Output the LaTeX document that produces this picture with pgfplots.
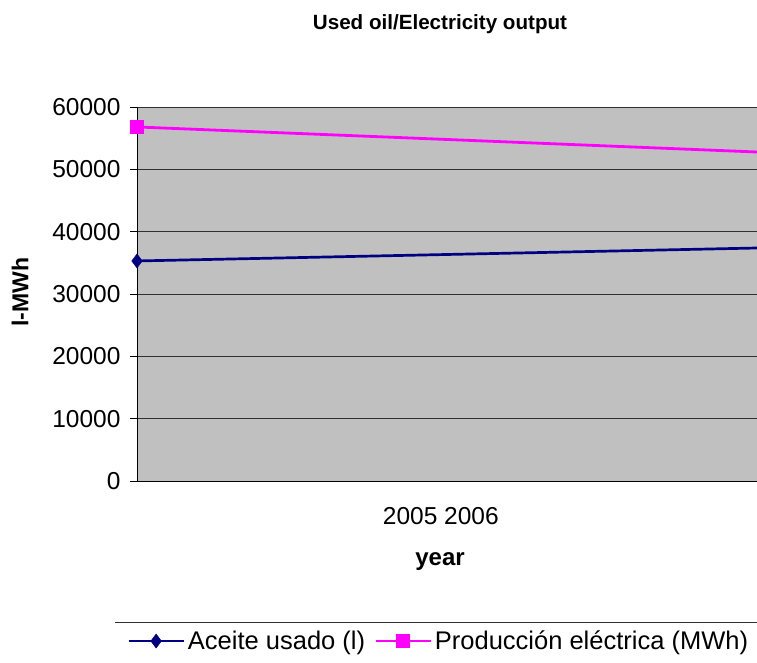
\documentclass[border=0pt]{standalone}
\usepackage{fontspec}
\setmainfont{Liberation Sans}
\usepackage{pgfplots}
\pgfplotsset{compat=1.18}
\definecolor{navyc}{HTML}{000080}
\definecolor{magc}{HTML}{FF00FF}
\definecolor{plotgray}{HTML}{C0C0C0}
\definecolor{gridc}{HTML}{303030}
\begin{document}
\begin{tikzpicture}[x=1pt,y=1pt]
\path[use as bounding box] (0,0) rectangle (757,662);
\begin{axis}[
 at={(137pt,181pt)}, anchor=south west,
 scale only axis, width=620pt, height=374pt,
 xmin=0, xmax=1, ymin=0, ymax=60000,
 axis background/.style={fill=plotgray},
 axis x line*=bottom, axis y line*=left,
 axis line style={black, line width=1pt, -},
 ytick={0,10000,20000,30000,40000,50000,60000},
 ymajorgrids, grid style={gridc, line width=1pt},
 /pgf/number format/assume math mode=true,
 scaled y ticks=false,
 yticklabel style={font=\fontsize{24.5}{25}\selectfont, /pgf/number format/1000 sep={}, xshift=-6pt},
 xtick={0.49}, xticklabels={2005 2006},
 xticklabel style={font=\fontsize{24.5}{25}\selectfont, anchor=center, yshift=-28pt},
 xtick style={draw=none},
 extra x ticks={0}, extra x tick labels={},
 extra tick style={tick style={black, line width=1pt}, major tick length=7pt},
 ytick style={black, line width=1pt},
 major tick length=7pt, tick align=outside,
 legend style={at={(-0.016,-0.428)}, anchor=west, draw=none, fill=none,
   font=\fontsize{25.5}{26}\selectfont, legend columns=2,
   /tikz/every even column/.append style={column sep=6pt},
   inner sep=0pt, nodes={inner sep=3pt}},
 legend image code/.code={\draw[#1,mark=none] (0pt,0pt)--(55pt,0pt); \draw[#1] plot coordinates {(27.5pt,0pt)};},
]
\addplot[navyc, line width=2.7pt, mark=diamond*, mark size=7pt, mark options={solid, line width=0.5pt}, mark indices={1}] coordinates {(0,35300) (1,37380)};
\addlegendentry{Aceite usado (l)}
\addplot[magc, line width=2.8pt, mark=square*, mark size=6.5pt, mark options={solid, line width=0.5pt}, mark indices={1}] coordinates {(0,56800) (1,52780)};
\addlegendentry{Producción eléctrica (MWh)}
\end{axis}
\node[font=\bfseries\fontsize{20.6}{22}\selectfont] at (440,638) {Used oil/Electricity output};
\node[font=\bfseries\fontsize{23}{24}\selectfont, rotate=90] at (20,370) {l-MWh};
\node[font=\bfseries\fontsize{24}{25}\selectfont, anchor=base] at (440,97) {year};
\draw[gridc, line width=1pt] (115,40) -- (757,40);
\end{tikzpicture}
\end{document}
